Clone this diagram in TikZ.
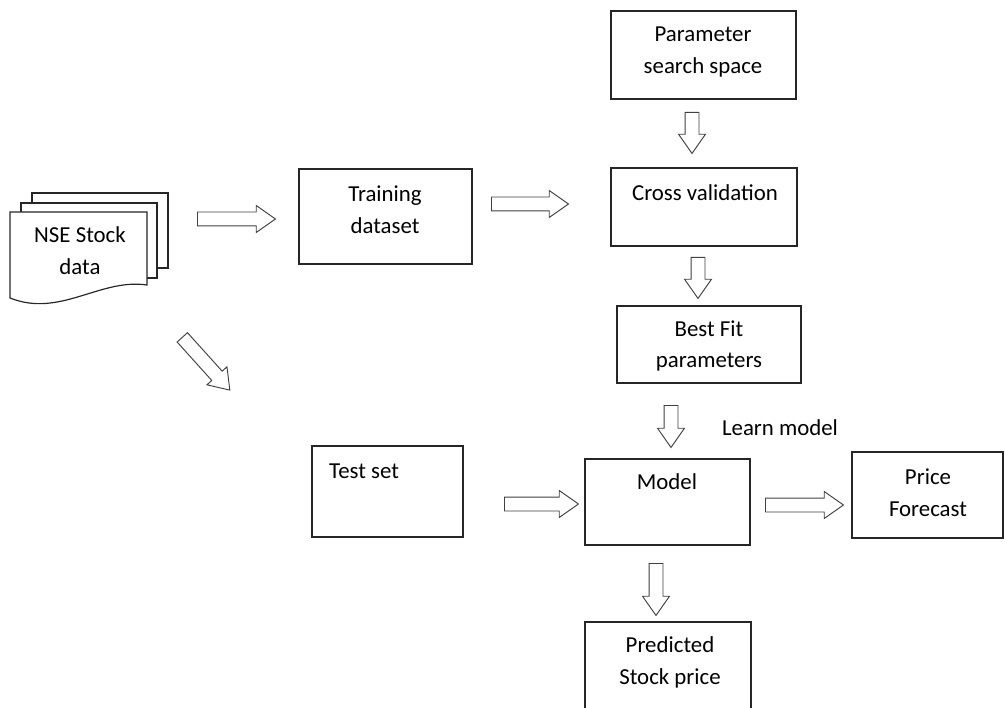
\documentclass[tikz,border=0pt]{standalone}
\usepackage{fontspec}
\setmainfont{Carlito}
\usetikzlibrary{positioning,shapes.arrows}
\def\px{0.03cm}
\tikzset{
box/.style={draw=black!85,line width=1.1pt,inner sep=0pt},
lbl/.style={align=center,inner sep=0pt},
blockarrow/.style={single arrow,draw=black!75,line width=0.8pt,fill=white,
  inner xsep=0pt,inner ysep=6.5*\px,single arrow head extend=6.5*\px,
  single arrow tip angle=70,anchor=tail},
page/.style={draw=black!85,line width=1pt,fill=white}
}
\begin{document}
\begin{tikzpicture}[x=\px,y=-\px]
\fontsize{19.5}{27.2}\selectfont
\useasboundingbox (0,0) rectangle (1005,708);
\clip (0,0) rectangle (1005,708);
% stacked documents
\draw[page] (32,193) rectangle (168,268);
\draw[page] (21,203) rectangle (157,278);
\draw[page] (10,212) -- (147,212) -- (147,285) .. controls (100,278) and (60,318) .. (10,298) -- cycle;
\node[lbl] (nse) at (80,251) {NSE Stock\\data};
% boxes
\node[box,minimum width=185*\px,minimum height=88*\px] (param) at (703.5,55) {};
\node[box,minimum width=173*\px,minimum height=95*\px] (train) at (385.5,216.5) {};
\node[box,minimum width=186*\px,minimum height=78*\px] (cv) at (704,207) {};
\node[box,minimum width=184*\px,minimum height=77*\px] (best) at (709,344.5) {};
\node[box,minimum width=151*\px,minimum height=91*\px] (test) at (387.5,491.5) {};
\node[box,minimum width=165*\px,minimum height=86*\px] (model) at (667.5,502) {};
\node[box,minimum width=151*\px,minimum height=86*\px] (price) at (927.5,495) {};
\node[box,minimum width=166*\px,minimum height=100*\px] (pred) at (668,672) {};
% texts
\node[lbl] (paramtext) at (703,52) {Parameter\\search space};
\node[lbl] (traintext) at (385,210) {Training\\dataset};
\node[lbl] (cvtext) at (705,193) {Cross validation};
\node[lbl] (besttext) at (709,346) {Best Fit\\parameters};
\node[lbl,anchor=west] (testtext) at (329,471) {Test set};
\node[lbl] (modeltext) at (667,482) {Model};
\node[lbl] (pricetext) at (928,493) {Price\\Forecast};
\node[lbl] (predtext) at (670,662) {Predicted\\Stock price};
\node[lbl] (learn) at (780,428) {Learn model};
% block arrows
\node[blockarrow,minimum height=78*\px] (a1) at (197,219) {};
\node[blockarrow,minimum height=77*\px] (a2) at (491,204) {};
\node[blockarrow,minimum height=41*\px,rotate=-90] (a3) at (692,112) {};
\node[blockarrow,minimum height=41*\px,rotate=-90] (a4) at (698,257) {};
\node[blockarrow,minimum height=42*\px,rotate=-90] (a5) at (671,405) {};
\node[blockarrow,minimum height=71*\px,rotate=-48] (a6) at (182,337) {};
\node[blockarrow,minimum height=74*\px] (a7) at (504,504) {};
\node[blockarrow,minimum height=78*\px] (a8) at (765,505) {};
\node[blockarrow,minimum height=52*\px,rotate=-90] (a9) at (656,563) {};
\end{tikzpicture}
\end{document}
